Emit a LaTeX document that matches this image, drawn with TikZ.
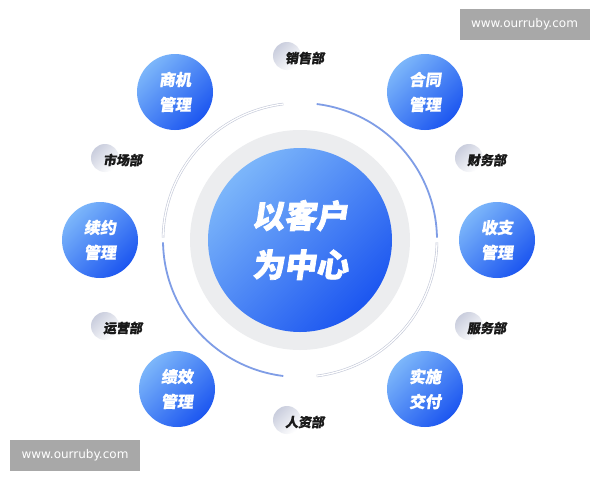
\documentclass[tikz,border=0pt]{standalone}
\usepackage{fontspec}
\setmainfont{DejaVu Sans}
\newfontfamily\cjk{Noto Sans CJK SC}[FakeSlant=0.15, FakeBold=0.8]
\newfontfamily\cjkh{Noto Sans CJK SC}[FakeSlant=0.15, FakeBold=2.2]
\definecolor{bluelight}{HTML}{7CB6FA}
\definecolor{bluedark}{HTML}{1C56F0}
\definecolor{ringgray}{HTML}{ECEDEF}
\definecolor{arcblue}{HTML}{7F9DE6}
\definecolor{arcgray}{HTML}{C3C8D8}
\definecolor{pillgray}{HTML}{C9CDDD}
\definecolor{wm}{HTML}{A8A8A8}
\definecolor{labtext}{HTML}{1A1A1A}
\begin{document}
\begin{tikzpicture}[x=1pt,y=-1pt,
  ball/.style={circle, inner sep=0pt, minimum size=76pt,
    top color=bluelight, bottom color=bluedark, shading angle=45,
    text=white, align=center,
    font=\cjk\bfseries\fontsize{16}{25}\selectfont},
  core/.style={circle, inner sep=0pt, minimum size=184pt,
    top color=bluelight, bottom color=bluedark, shading angle=45,
    text=white, align=center,
    font=\cjkh\bfseries\fontsize{32}{49}\selectfont},
  ring/.style={circle, inner sep=0pt, minimum size=220pt, fill=ringgray},
  pill/.style={circle, inner sep=0pt, minimum size=28pt,
    top color=pillgray, bottom color=white, shading angle=45},
  lab/.style={inner sep=0pt, anchor=west, text=labtext,
    font=\cjk\bfseries\fontsize{13}{15}\selectfont},
  wmbox/.style={fill=wm, inner sep=0pt, minimum width=130pt, minimum height=31pt,
    text=white, font=\fontsize{12}{14}\selectfont},
  arcb/.style={draw=arcblue, line width=1.8pt},
  arco/.style={draw=arcgray, line width=0.6pt, double=white, double distance=1.3pt}
]
\useasboundingbox (0,0) rectangle (600,480);
\fill[white] (0,0) rectangle (600,480);

\coordinate (c) at (300,240);
% arcs
\draw[arco] (c) ++(263:137) arc[start angle=263, end angle=181, radius=137];
\draw[arcb] (c) ++(277:137) arc[start angle=277, end angle=359, radius=137];
\draw[arco] (c) ++(1:137) arc[start angle=1, end angle=83, radius=137];
\draw[arcb] (c) ++(179:137) arc[start angle=179, end angle=97, radius=137];

% centre
\node[ring] (rg) at (c) {};
\node[core] (cc) at (c) {以客户\\为中心};

% satellites
\node[ball] (b1) at (175,92) {商机\\管理};
\node[ball] (b2) at (425,92) {合同\\管理};
\node[ball] (b3) at (100,240) {续约\\管理};
\node[ball] (b4) at (497,240) {收支\\管理};
\node[ball] (b5) at (177,389) {绩效\\管理};
\node[ball] (b6) at (425,389) {实施\\交付};

% department labels
\node[pill] (p1) at (287,56) {};
\node[lab] (l1) at (285,58) {销售部};
\node[pill] (p2) at (105,158) {};
\node[lab] (l2) at (103,160) {市场部};
\node[pill] (p3) at (469,158) {};
\node[lab] (l3) at (467,160) {财务部};
\node[pill] (p4) at (105,326) {};
\node[lab] (l4) at (103,328) {运营部};
\node[pill] (p5) at (469,326) {};
\node[lab] (l5) at (467,328) {服务部};
\node[pill] (p6) at (287,420) {};
\node[lab] (l6) at (285,422) {人资部};

% watermarks
\node[wmbox] (w1) at (524.5,24.5) {www.ourruby.com};
\node[wmbox] (w2) at (75,455) {www.ourruby.com};
\end{tikzpicture}
\end{document}
